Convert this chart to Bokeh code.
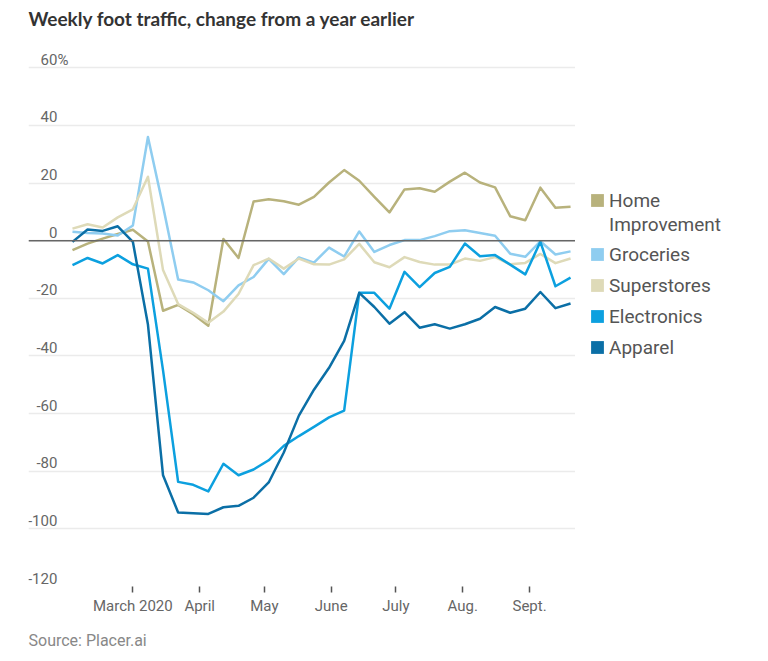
import pandas as pd
from bokeh.plotting import figure
from bokeh.layouts import row, column
from bokeh.core.properties import value
from bokeh.models import (Range1d, FixedTicker, Span, ColumnDataSource, LabelSet, Label,
                          Legend, LegendItem, Grid)
from bokeh.embed import file_html
from bokeh.resources import INLINE


def ms(s):
    return pd.Timestamp(s).value / 1e6


# ---------------- data ----------------
week_start = "2020-02-02"
n_weeks = 34
weeks = pd.date_range(week_start, periods=n_weeks, freq="7D")

home_improvement = [-3.3, -1.0, 0.7, 2.3, 3.8, -0.3, -24.3, -22.3, -25.5, -29.5,
                    0.6, -6.0, 13.6, 14.4, 13.7, 12.5, 15.2, 20.2, 24.5, 20.8,
                    15.2, 9.8, 17.8, 18.2, 17.0, 20.5, 23.6, 20.2, 18.5, 8.5,
                    7.1, 18.4, 11.4, 11.8]
groceries = [3.1, 2.7, 2.5, 1.8, 5.3, 36.0, 12.0, -13.5, -14.5, -17.2,
             -21.0, -15.5, -12.6, -6.3, -11.6, -5.8, -7.6, -2.4, -5.5, 3.2,
             -3.9, -1.5, 0.2, 0.2, 1.6, 3.3, 3.6, 2.7, 1.7, -4.5,
             -5.6, -0.2, -4.8, -3.7]
superstores = [4.2, 5.7, 4.6, 8.1, 10.9, 22.2, -10.2, -22.0, -25.0, -28.5,
               -24.6, -18.5, -8.5, -6.2, -9.7, -6.2, -8.2, -8.3, -6.5, -1.1,
               -7.5, -9.2, -5.7, -7.4, -8.3, -8.3, -6.2, -7.0, -5.7, -8.2,
               -7.7, -4.6, -7.8, -6.2]
electronics = [-8.5, -6.0, -7.9, -5.0, -8.2, -9.7, -45.0, -83.7, -84.7, -87.0,
               -77.4, -81.4, -79.4, -76.2, -71.2, -67.8, -64.6, -61.3, -59.0, -18.1,
               -18.1, -23.6, -10.8, -16.1, -11.2, -9.1, -1.0, -5.4, -5.0, -8.3,
               -11.7, -0.4, -15.8, -12.8]
apparel = [-0.4, 3.9, 3.4, 5.0, -0.4, -29.1, -81.4, -94.3, -94.6, -94.8,
           -92.5, -92.0, -89.2, -83.9, -73.5, -60.7, -51.7, -44.1, -34.8, -18.1,
           -23.0, -28.8, -24.8, -30.2, -29.0, -30.5, -29.0, -27.1, -23.0, -25.0,
           -23.6, -17.8, -23.4, -21.8]

series_names = ["Home Improvement", "Groceries", "Superstores", "Electronics", "Apparel"]
series_values = [home_improvement, groceries, superstores, electronics, apparel]
series_colors = ["#b8b27c", "#8fcdf0", "#dedab8", "#0ca0df", "#0b6fa6"]

y_ticks = [-120, -100, -80, -60, -40, -20, 0, 20, 40, 60]
y_tick_labels = ["-120", "-100", "-80", "-60", "-40", "-20", "0", "20", "40", "60%"]

month_ticks = ["2020-03-01", "2020-04-01", "2020-05-01", "2020-06-01",
               "2020-07-01", "2020-08-01", "2020-09-01"]
month_labels = ["March 2020", "April", "May", "June", "July", "Aug.", "Sept."]

title_text = "Weekly foot traffic, change from a year earlier"
source_text = "Source: Placer.ai"

# ---------------- layout geometry (px) ----------------
FONT = "Roboto"
W, H = 768, 661
HEADER_H, FOOTER_H = 50, 41
MAIN_W = 575
BODY_H = H - HEADER_H - FOOTER_H
LEFT = 28
FRAME_H = 536


def blank_fig(w, h):
    f = figure(width=w, height=h, x_range=Range1d(0, w), y_range=Range1d(0, h),
               output_backend="svg", toolbar_location=None, x_axis_location=None,
               y_axis_location=None, min_border=0, outline_line_color=None,
               background_fill_color="white", border_fill_color="white", title=None)
    f.xgrid.visible = False
    f.ygrid.visible = False
    return f


# header with title
header = blank_fig(W, HEADER_H)
header.add_layout(Label(x=LEFT, y=32, text=title_text, text_align="left",
                        text_baseline="alphabetic", text_font="Lato",
                        text_font_style="bold", text_font_size="19px",
                        text_color="#333333"))

# footer with source
footer = blank_fig(W, FOOTER_H)
footer.add_layout(Label(x=LEFT, y=21, text=source_text, text_align="left",
                        text_baseline="alphabetic", text_font=FONT,
                        text_font_size="16px", text_color="#888888"))

# ---------------- main chart ----------------
p = figure(width=MAIN_W, height=BODY_H, x_axis_type="datetime", title=None,
           x_range=Range1d(ms("2020-01-12 14:24"), ms("2020-09-22 07:12")),
           y_range=Range1d(-120, 66),
           output_backend="svg", toolbar_location=None, y_axis_location=None,
           min_border_left=LEFT, min_border_right=0, min_border_top=0,
           min_border_bottom=BODY_H - FRAME_H, background_fill_color="white",
           border_fill_color="white", outline_line_color=None)

p.xgrid.visible = False
for g in p.ygrid:
    g.visible = False
p.add_layout(Grid(dimension=1, ticker=FixedTicker(ticks=y_ticks),
                  grid_line_color="#ebebeb", grid_line_width=1.5))

p.xaxis.ticker = FixedTicker(ticks=[ms(m) for m in month_ticks])
p.xaxis.major_label_overrides = {ms(m): lab for m, lab in zip(month_ticks, month_labels)}
p.xaxis.axis_line_color = None
p.xaxis.major_tick_line_color = "#555555"
p.xaxis.major_tick_line_width = 1.5
p.xaxis.major_tick_out = 6
p.xaxis.major_tick_in = 0
p.xaxis.minor_tick_line_color = None
p.xaxis.major_label_text_font = FONT
p.xaxis.major_label_text_font_size = "15px"
p.xaxis.major_label_text_color = "#666666"
p.xaxis.major_label_standoff = 4

p.add_layout(Span(location=0, dimension="width", line_color="#666666", line_width=1.5))

src = ColumnDataSource(dict(week=weeks, **{n: v for n, v in zip(series_names, series_values)}))
for name, color in zip(series_names, series_colors):
    p.line(x="week", y=name, source=src, line_color=color, line_width=2.5,
           line_join="round")

# y tick labels placed above the grid lines; a trailing unit hangs past the numbers
label_x = ms("2020-01-26")
unit_width = 11
ylab_src = ColumnDataSource(dict(
    x=[label_x] * len(y_ticks), y=y_ticks, text=y_tick_labels,
    dx=[unit_width if t.endswith("%") else 0 for t in y_tick_labels]))
p.add_layout(LabelSet(x="x", y="y", text="text", source=ylab_src, text_align="right",
                      text_baseline="alphabetic", x_offset="dx", y_offset=3,
                      text_font=value(FONT), text_font_size=value("15px"),
                      text_color="#666666"))

# ---------------- legend panel ----------------
leg = blank_fig(W - MAIN_W, BODY_H)
nan = float("nan")
swatches = [leg.quad(left=[nan], right=[nan], top=[nan], bottom=[nan], fill_color=c,
                     line_color=None) for c in series_colors]
blank = leg.quad(left=[nan], right=[nan], top=[nan], bottom=[nan], fill_alpha=0,
                 line_alpha=0)

common = dict(glyph_width=16, glyph_height=16, label_height=24, label_standoff=4,
              padding=0, margin=0, border_line_color=None, background_fill_alpha=0,
              label_text_font=FONT, label_text_font_size="19px",
              label_text_color="#555555")
first_words = series_names[0].split(" ")
legA = Legend(items=[LegendItem(label=first_words[0], renderers=[swatches[0]]),
                     LegendItem(label=" ".join(first_words[1:]), renderers=[blank])],
              location=(14, 350), spacing=0, **common)
legB = Legend(items=[LegendItem(label=n, renderers=[s])
                     for n, s in zip(series_names[1:], swatches[1:])],
              location=(14, 227), spacing=7, **common)
leg.add_layout(legA)
leg.add_layout(legB)

layout = column(header, row(p, leg), footer)
open("out.html", "w").write(file_html(layout, INLINE))
